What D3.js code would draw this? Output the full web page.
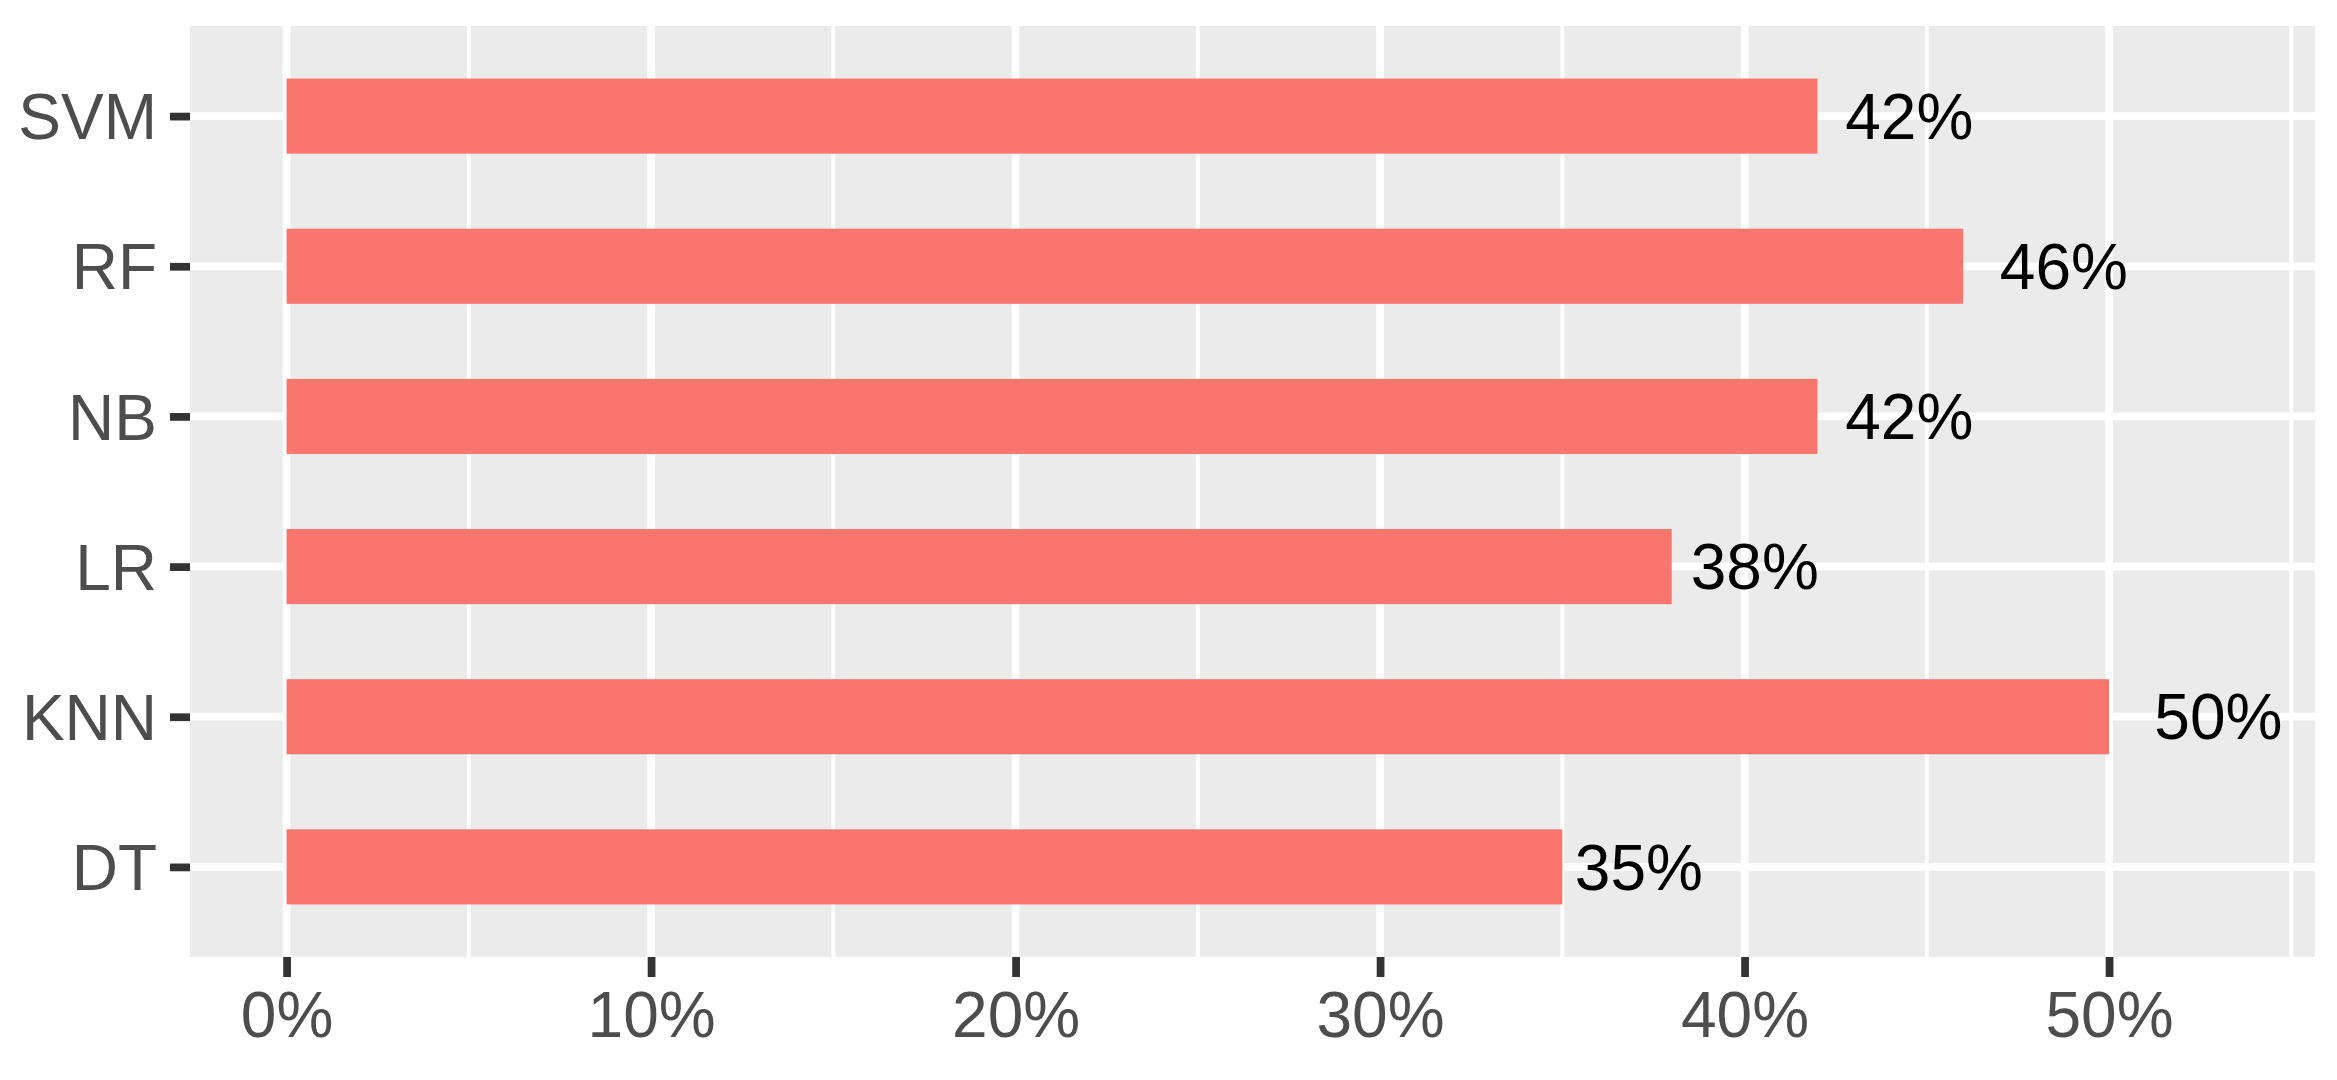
<!DOCTYPE html>
<html>
<head>
<meta charset="utf-8">
<script src="https://cdn.jsdelivr.net/npm/d3@7"></script>
<style>
  html, body { margin: 0; padding: 0; background: #ffffff; }
  svg { display: block; }
</style>
</head>
<body>
<script>
// ---- data ----
const categories = ["SVM", "RF", "NB", "LR", "KNN", "DT"];
const values = [42, 46, 42, 38, 50, 35];
const majorTicks = [0, 10, 20, 30, 40, 50];
const minorTicks = [5, 15, 25, 35, 45, 55];

// ---- layout ----
const W = 2337, H = 1080;
const panel = { left: 190, right: 2315, top: 26, bottom: 957 };
const labelFactor = 1.06;

const svg = d3.select("body").append("svg")
  .attr("width", W).attr("height", H)
  .style("font-family", "'Liberation Sans', Arial, Helvetica, sans-serif");

const maxLab = d3.max(values) * labelFactor;
const expand = maxLab * 0.05;
const x = d3.scaleLinear()
  .domain([0 - expand, maxLab + expand])
  .range([panel.left, panel.right]);

const y = d3.scalePoint()
  .domain(categories)
  .range([panel.top, panel.bottom])
  .padding(0.6);

const barH = y.step() * 0.5;
const majorW = 7.75, minorW = 3.9;

// panel background
svg.append("rect")
  .attr("x", panel.left).attr("y", panel.top)
  .attr("width", panel.right - panel.left)
  .attr("height", panel.bottom - panel.top)
  .attr("fill", "#EBEBEB");

// minor vertical grid
svg.append("g").selectAll("line").data(minorTicks).join("line")
  .attr("x1", d => x(d)).attr("x2", d => x(d))
  .attr("y1", panel.top).attr("y2", panel.bottom)
  .attr("stroke", "#ffffff").attr("stroke-width", minorW);

// major vertical grid
svg.append("g").selectAll("line").data(majorTicks).join("line")
  .attr("x1", d => x(d)).attr("x2", d => x(d))
  .attr("y1", panel.top).attr("y2", panel.bottom)
  .attr("stroke", "#ffffff").attr("stroke-width", majorW);

// major horizontal grid
svg.append("g").selectAll("line").data(categories).join("line")
  .attr("x1", panel.left).attr("x2", panel.right)
  .attr("y1", d => y(d)).attr("y2", d => y(d))
  .attr("stroke", "#ffffff").attr("stroke-width", majorW);

// bars
svg.append("g").selectAll("rect").data(categories).join("rect")
  .attr("x", x(0))
  .attr("y", d => y(d) - barH / 2)
  .attr("width", (d, i) => x(values[i]) - x(0))
  .attr("height", barH)
  .attr("fill", "#F8766D");

// value labels
svg.append("g").selectAll("text").data(categories).join("text")
  .attr("x", (d, i) => x(values[i] * labelFactor))
  .attr("y", d => y(d))
  .attr("dy", "0.355em")
  .attr("text-anchor", "middle")
  .attr("fill", "#000000")
  .style("font-size", "64px")
  .text((d, i) => values[i] + "%");

// x axis
const xAxis = svg.append("g")
  .attr("transform", `translate(0,${panel.bottom})`)
  .call(d3.axisBottom(x).tickValues(majorTicks).tickSize(20).tickPadding(15)
    .tickFormat(d => d + "%"));
xAxis.select(".domain").remove();
xAxis.selectAll(".tick line").attr("stroke", "#333333").attr("stroke-width", majorW);
xAxis.selectAll(".tick text")
  .attr("fill", "#4D4D4D")
  .style("font-size", "64px")
  .style("font-family", "'Liberation Sans', Arial, Helvetica, sans-serif");

// y axis
const yAxis = svg.append("g")
  .attr("transform", `translate(${panel.left},0)`)
  .call(d3.axisLeft(y).tickSize(20).tickPadding(13));
yAxis.select(".domain").remove();
yAxis.selectAll(".tick line").attr("stroke", "#333333").attr("stroke-width", majorW);
yAxis.selectAll(".tick text")
  .attr("fill", "#4D4D4D")
  .attr("dy", "0.355em")
  .style("font-size", "64px")
  .style("font-family", "'Liberation Sans', Arial, Helvetica, sans-serif");
</script>
</body>
</html>
